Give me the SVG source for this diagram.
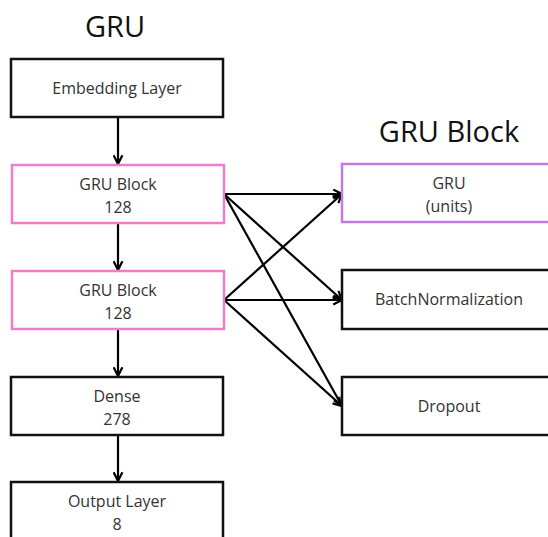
<svg xmlns="http://www.w3.org/2000/svg" width="548" height="537" viewBox="0 0 548 537">
<defs>
<marker id="ah" viewBox="0 0 10 10" refX="9" refY="5" markerWidth="5" markerHeight="5" orient="auto" markerUnits="strokeWidth">
<path d="M1,1 L9,5 L1,9" fill="none" stroke="#000" stroke-width="2"/>
</marker>
</defs>
<style>
.box{fill:#fff;stroke:#111;stroke-width:2.5}
.pink{fill:#fff;stroke:#ee7ecb;stroke-width:2.5}
.purple{fill:#fff;stroke:#c07ae6;stroke-width:2.5}
.t{font-family:"Open Sans","Noto Sans",sans-serif;font-size:16px;fill:#333;text-anchor:middle}
.h{font-family:"Open Sans","Noto Sans",sans-serif;font-size:29px;fill:#111;text-anchor:middle}
.c{stroke:#000;stroke-width:2.2;fill:none;marker-end:url(#ah)}
</style>
<text class="h" x="115" y="37">GRU</text>
<text class="h" x="449" y="142">GRU Block</text>
<g id="connectors">
<line class="c" x1="118" y1="117" x2="118" y2="164"/>
<line class="c" x1="118" y1="223" x2="118" y2="270"/>
<line class="c" x1="118" y1="329" x2="118" y2="376"/>
<line class="c" x1="118" y1="435" x2="118" y2="481"/>
<line class="c" x1="224" y1="194" x2="342" y2="194"/>
<line class="c" x1="224" y1="194" x2="342" y2="300"/>
<line class="c" x1="224" y1="194" x2="342" y2="406"/>
<line class="c" x1="224" y1="300" x2="342" y2="194"/>
<line class="c" x1="224" y1="300" x2="342" y2="300"/>
<line class="c" x1="224" y1="300" x2="342" y2="406"/>
</g>
<g id="embedding"><rect class="box" x="11" y="59" width="212" height="58"/><text class="t" x="117" y="94">Embedding Layer</text></g>
<g id="gru1"><rect class="pink" x="12" y="165" width="212" height="58"/><text class="t" x="118" y="190">GRU Block</text><text class="t" x="118" y="213">128</text></g>
<g id="gru2"><rect class="pink" x="12" y="271" width="212" height="58"/><text class="t" x="118" y="296">GRU Block</text><text class="t" x="118" y="319">128</text></g>
<g id="dense"><rect class="box" x="11" y="377" width="212" height="58"/><text class="t" x="117" y="402">Dense</text><text class="t" x="117" y="425">278</text></g>
<g id="output"><rect class="box" x="11" y="482" width="212" height="70"/><text class="t" x="117" y="507">Output Layer</text><text class="t" x="117" y="530">8</text></g>
<g id="gru"><rect class="purple" x="342" y="164" width="220" height="58"/><text class="t" x="449" y="189">GRU</text><text class="t" x="449" y="212">(units)</text></g>
<g id="batchnorm"><rect class="box" x="342" y="270" width="220" height="59"/><text class="t" x="449" y="305">BatchNormalization</text></g>
<g id="dropout"><rect class="box" x="342" y="377" width="220" height="58"/><text class="t" x="449" y="412">Dropout</text></g>
</svg>
